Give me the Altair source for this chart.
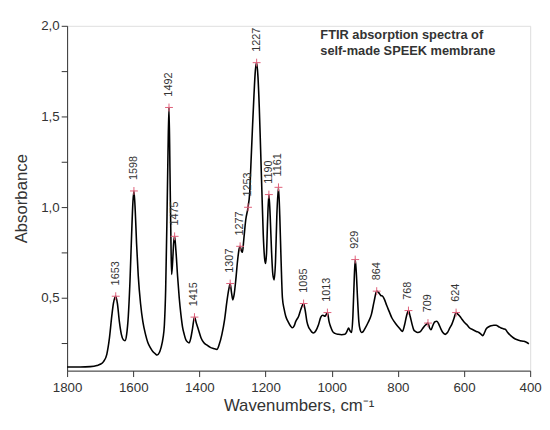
import altair as alt
import pandas as pd

# Spectrum trace (wavenumber in cm-1, absorbance)
wn = [1800, 1760, 1730, 1710, 1700, 1690, 1680, 1672, 1665, 1660, 1653, 1648, 1642, 1636, 1630, 1625,
      1620, 1615, 1610, 1605, 1601, 1598, 1594, 1590, 1585, 1578, 1571, 1563, 1556, 1548, 1541, 1533,
      1528, 1521, 1516, 1510, 1506, 1502, 1498, 1495, 1492, 1489, 1486, 1484, 1481, 1478, 1475, 1471,
      1466, 1461, 1456, 1451, 1446, 1441, 1436, 1431, 1426, 1421, 1415, 1409, 1402, 1395, 1387, 1377,
      1367, 1357, 1347, 1340, 1332, 1324, 1317, 1311, 1307, 1303, 1299, 1295, 1290, 1285, 1280, 1277,
      1273, 1270, 1266, 1260, 1253, 1248, 1244, 1240, 1235, 1231, 1227, 1223, 1219, 1215, 1211, 1207,
      1203, 1200, 1197, 1194, 1190, 1186, 1182, 1178, 1174, 1170, 1166, 1161, 1157, 1153, 1149, 1144,
      1139, 1132, 1124, 1119, 1114, 1109, 1100, 1093, 1085, 1080, 1075, 1070, 1065, 1060, 1055, 1048,
      1040, 1033, 1027, 1020, 1013, 1008, 1003, 997, 990, 980, 970, 960, 953, 949, 945, 940,
      936, 933, 929, 926, 922, 918, 914, 910, 905, 900, 890, 880, 872, 864, 858, 852,
      846, 840, 834, 826, 818, 811, 803, 796, 790, 786, 780, 774, 768, 763, 757, 752,
      747, 740, 732, 726, 720, 714, 709, 704, 700, 694, 688, 682, 676, 670, 664, 657,
      650, 643, 637, 630, 624, 618, 612, 605, 597, 590, 583, 573, 563, 555, 548, 543,
      538, 533, 525, 518, 510, 503, 495, 488, 480, 474, 468, 459, 450, 439, 430, 419,
      410, 404]
absorb = [0.12, 0.12, 0.122, 0.128, 0.135, 0.15, 0.19, 0.28, 0.40, 0.47, 0.51, 0.47, 0.37, 0.30, 0.27, 0.265,
          0.30, 0.40, 0.59, 0.85, 1.03, 1.09, 0.98, 0.80, 0.625, 0.47, 0.37, 0.30, 0.255, 0.225, 0.205, 0.192,
          0.186, 0.20, 0.227, 0.28, 0.35, 0.55, 0.95, 1.30, 1.55, 1.20, 0.80, 0.63, 0.70, 0.80, 0.84, 0.76,
          0.62, 0.50, 0.41, 0.34, 0.30, 0.27, 0.258, 0.253, 0.28, 0.33, 0.395, 0.36, 0.32, 0.28, 0.255, 0.24,
          0.228, 0.222, 0.217, 0.245, 0.30, 0.38, 0.48, 0.55, 0.58, 0.53, 0.49, 0.52, 0.60, 0.70, 0.77, 0.785,
          0.76, 0.752, 0.82, 0.93, 1.00, 1.08, 1.25, 1.42, 1.62, 1.75, 1.797, 1.72, 1.55, 1.32, 1.08, 0.85,
          0.72, 0.69, 0.75, 0.92, 1.07, 0.95, 0.76, 0.63, 0.60, 0.70, 0.95, 1.11, 0.95, 0.70, 0.50, 0.44,
          0.40, 0.37, 0.345, 0.336, 0.345, 0.37, 0.40, 0.44, 0.47, 0.43, 0.37, 0.34, 0.325, 0.312, 0.307, 0.32,
          0.353, 0.395, 0.405, 0.40, 0.42, 0.37, 0.34, 0.315, 0.305, 0.30, 0.298, 0.30, 0.32, 0.335, 0.32, 0.31,
          0.40, 0.55, 0.712, 0.65, 0.50, 0.37, 0.325, 0.31, 0.315, 0.33, 0.365, 0.41, 0.48, 0.538, 0.53, 0.515,
          0.51, 0.49, 0.46, 0.425, 0.39, 0.37, 0.35, 0.335, 0.322, 0.316, 0.35, 0.40, 0.431, 0.40, 0.355, 0.325,
          0.316, 0.31, 0.315, 0.33, 0.345, 0.355, 0.362, 0.335, 0.325, 0.35, 0.37, 0.372, 0.355, 0.33, 0.31, 0.30,
          0.31, 0.335, 0.355, 0.39, 0.42, 0.41, 0.398, 0.38, 0.362, 0.35, 0.335, 0.325, 0.316, 0.31, 0.30, 0.293,
          0.31, 0.33, 0.342, 0.347, 0.35, 0.35, 0.342, 0.335, 0.33, 0.326, 0.31, 0.293, 0.28, 0.27, 0.265, 0.262,
          0.255, 0.248]

# Marked peaks
peak_wn = [1653, 1598, 1492, 1475, 1415, 1307, 1277, 1253, 1227, 1190, 1161, 1085, 1013, 929, 864, 768, 709, 624]
peak_abs = [0.51, 1.09, 1.55, 0.84, 0.395, 0.58, 0.785, 1.00, 1.797, 1.07, 1.11, 0.47, 0.42, 0.712, 0.538, 0.431, 0.362, 0.42]

title_lines = ["FTIR absorption spectra of", "self-made SPEEK membrane"]

spec = pd.DataFrame({"wn": wn, "A": absorb})
peaks = pd.DataFrame({"wn": peak_wn, "A": peak_abs, "lab": [str(v) for v in peak_wn]})

FONT = "Liberation Sans"
GREY = "#333333"

x_scale = alt.Scale(domain=[400, 1800], reverse=True, nice=False)
y_scale = alt.Scale(domain=[0.1, 2.0], nice=False, zero=False)

x_axis = alt.Axis(
    title="Wavenumbers, cm⁻¹",
    values=list(range(400, 1801, 100)),
    format="d",
    labelExpr="datum.value % 200 == 0 ? datum.label : ''",
    grid=False, tickSize=6, labelPadding=4, titlePadding=4,
    labelFontSize=13.5, titleFontSize=17, titleFontWeight="normal",
    labelFont=FONT, titleFont=FONT, labelColor=GREY, titleColor=GREY,
    domainColor=GREY, tickColor=GREY, labelFlush=False,
)
y_axis = alt.Axis(
    title="Absorbance",
    values=[0.25, 0.5, 0.75, 1.0, 1.25, 1.5, 1.75, 2.0],
    labelExpr="datum.value % 0.5 == 0 ? replace(format(datum.value, '.1f'), '.', ',') : ''",
    grid=False, tickSize=6, labelPadding=2, titlePadding=10,
    labelFontSize=13.5, titleFontSize=17, titleFontWeight="normal",
    labelFont=FONT, titleFont=FONT, labelColor=GREY, titleColor=GREY,
    domainColor=GREY, tickColor=GREY, labelFlush=False,
)

line = alt.Chart(spec).mark_line(color="black", strokeWidth=1.6, interpolate="monotone").encode(
    x=alt.X("wn:Q", scale=x_scale, axis=x_axis),
    y=alt.Y("A:Q", scale=y_scale, axis=y_axis),
)

marks = alt.Chart(peaks).mark_point(
    shape="M-1,0L1,0M0,-1L0,1", size=64, filled=False, strokeWidth=1, color="#e0607a", opacity=1
).encode(
    x=alt.X("wn:Q", scale=x_scale),
    y=alt.Y("A:Q", scale=y_scale),
)

labels = alt.Chart(peaks).mark_text(
    angle=270, align="left", baseline="middle", dx=11, fontSize=11, font=FONT, color=GREY
).encode(
    x=alt.X("wn:Q", scale=x_scale),
    y=alt.Y("A:Q", scale=y_scale),
    text="lab:N",
)

chart = alt.layer(line, marks, labels).properties(
    width=470, height=350,
    title=alt.TitleParams(
        text=title_lines, anchor="start", frame="group", orient="top",
        dx=257, dy=40, offset=0, baseline="top",
        fontSize=13, fontWeight="bold", font=FONT, color=GREY, lineHeight=17,
    ),
    autosize=alt.AutoSizeParams(type="none"),
    padding={"left": 60, "top": 15, "right": 12, "bottom": 45},
).configure_view(stroke=None).configure(background="white")

chart.save("out.html", embed_options={"renderer": "svg", "actions": False})
